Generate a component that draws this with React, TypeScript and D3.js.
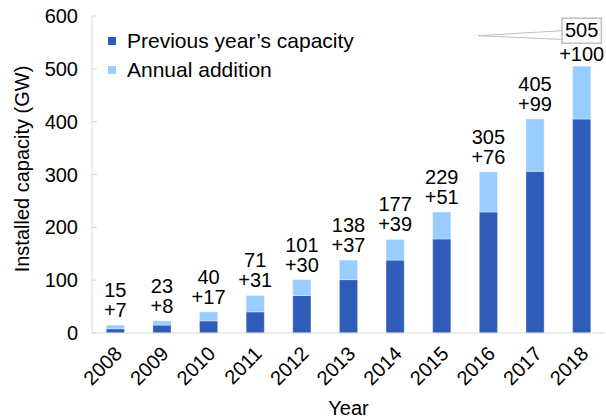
import * as d3 from "d3";
import { useEffect, useRef } from "react";

const YEARS = ["2008", "2009", "2010", "2011", "2012", "2013", "2014", "2015", "2016", "2017", "2018"];
const TOTALS = [15, 23, 40, 71, 101, 138, 177, 229, 305, 405, 505];
const ADDITIONS = [7, 8, 17, 31, 30, 37, 39, 51, 76, 99, 100];
const Y_TICKS = [0, 100, 200, 300, 400, 500, 600];
const LEGEND = ["Previous year\u2019s capacity", "Annual addition"];

const DARK = "#2e5cb8";
const LIGHT = "#99ccff";
const FONT = "Liberation Sans, Arial, sans-serif";

export default function App() {
  const ref = useRef<SVGSVGElement | null>(null);

  useEffect(() => {
    const width = 606;
    const height = 419;
    const left = 92;
    const right = 605;
    const top = 16;
    const bottom = 333;

    const svg = d3.select(ref.current);
    svg.selectAll("*").remove();
    svg.attr("viewBox", `0 0 ${width} ${height}`);

    const x = d3.scaleBand().domain(YEARS).range([left, right]).paddingInner(0.61).paddingOuter(0.305);
    const y = d3.scaleLinear().domain([0, 600]).range([bottom, top]);

    // y axis
    svg.append("line")
      .attr("x1", left).attr("x2", left)
      .attr("y1", top).attr("y2", bottom)
      .attr("stroke", "#d9d9d9");
    Y_TICKS.forEach((t) => {
      svg.append("line")
        .attr("x1", left).attr("x2", left + 5)
        .attr("y1", y(t)).attr("y2", y(t))
        .attr("stroke", "#d9d9d9");
      svg.append("text")
        .attr("x", left - 14)
        .attr("y", y(t) + 7)
        .attr("text-anchor", "end")
        .attr("font-family", FONT)
        .attr("font-size", 20)
        .attr("fill", "#000")
        .text(t);
    });

    // bars
    YEARS.forEach((yr, i) => {
      const prev = TOTALS[i] - ADDITIONS[i];
      const bx = x(yr) ?? 0;
      svg.append("rect")
        .attr("x", bx).attr("width", x.bandwidth())
        .attr("y", y(prev)).attr("height", y(0) - y(prev))
        .attr("fill", DARK)
        .attr("stroke", "rgba(255,255,255,0.35)");
      svg.append("rect")
        .attr("x", bx).attr("width", x.bandwidth())
        .attr("y", y(TOTALS[i])).attr("height", y(prev) - y(TOTALS[i]))
        .attr("fill", LIGHT)
        .attr("stroke", "rgba(255,255,255,0.35)");
    });

    // x axis
    svg.append("line")
      .attr("x1", left).attr("x2", right)
      .attr("y1", bottom).attr("y2", bottom)
      .attr("stroke", "#d9d9d9");
    YEARS.forEach((yr) => {
      const cx = (x(yr) ?? 0) + x.bandwidth() / 2;
      svg.append("text")
        .attr("transform", `translate(${cx + 8},${bottom + 22}) rotate(-45)`)
        .attr("text-anchor", "end")
        .attr("font-family", FONT)
        .attr("font-size", 20)
        .text(yr);
    });

    // data labels
    YEARS.forEach((yr, i) => {
      const cx = (x(yr) ?? 0) + x.bandwidth() / 2;
      const last = i === YEARS.length - 1;
      const base = y(TOTALS[i]) - (last ? 5 : 8);
      const g = svg.append("g")
        .attr("font-family", FONT)
        .attr("font-size", 20)
        .attr("text-anchor", "middle");
      g.append("text").attr("x", cx).attr("y", base).text(`+${ADDITIONS[i]}`);
      const t = g.append("text")
        .attr("x", cx)
        .attr("y", base - (last ? 24 : 20))
        .text(TOTALS[i]);
      if (last) {
        const bb = (t.node() as SVGTextElement).getBBox();
        const bxl = bb.x - 3;
        const byt = bb.y - 1;
        const bw = bb.width + 6;
        const bh = bb.height + 3;
        svg.append("path")
          .attr("d", `M${bxl},${byt + bh * 0.5} L${bxl - 84},${byt + bh * 0.7} L${bxl},${byt + bh * 0.85}`)
          .attr("fill", "none")
          .attr("stroke", "#bfbfbf");
        svg.append("rect")
          .attr("x", bxl).attr("y", byt)
          .attr("width", bw).attr("height", bh)
          .attr("fill", "none")
          .attr("stroke", "#bfbfbf")
          .attr("stroke-width", 1.5);
      }
    });

    // legend
    LEGEND.forEach((name, i) => {
      const ly = 48 + i * 29;
      svg.append("rect")
        .attr("x", 108).attr("y", ly - 11)
        .attr("width", 8).attr("height", 8)
        .attr("fill", i === 0 ? DARK : LIGHT);
      svg.append("text")
        .attr("x", 127).attr("y", ly)
        .attr("font-family", FONT)
        .attr("font-size", 21)
        .text(name);
    });

    // axis titles
    svg.append("text")
      .attr("transform", `translate(${29},${169}) rotate(-90)`)
      .attr("text-anchor", "middle")
      .attr("font-family", FONT)
      .attr("font-size", 20)
      .text("Installed capacity (GW)");
    svg.append("text")
      .attr("x", (left + right) / 2)
      .attr("y", 415)
      .attr("text-anchor", "middle")
      .attr("font-family", FONT)
      .attr("font-size", 20)
      .text("Year");
  }, []);

  return (
    <svg
      ref={ref}
      width={606}
      height={419}
      style={{ position: "absolute", left: 0, top: 0, background: "#fff" }}
    />
  );
}
